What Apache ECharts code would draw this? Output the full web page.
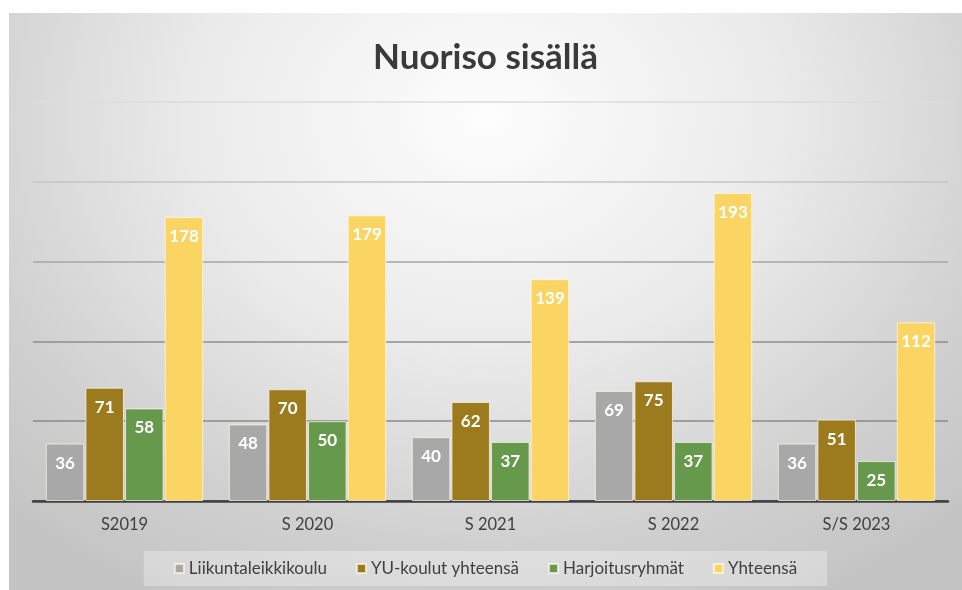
<!DOCTYPE html>
<html>
<head>
<meta charset="utf-8">
<script src="https://cdn.jsdelivr.net/npm/echarts@6/dist/echarts.min.js"></script>
<style>
  body { margin: 0; background: #fff; }
  #chart {
    position: absolute; left: 9px; top: 13px; width: 953px; height: 577px;
    background: radial-gradient(ellipse 72% 95% at 50% 18%, #fdfdfd 0%, #ebebeb 42%, #d0d0d0 78%, #c4c4c4 100%);
  }
</style>
</head>
<body>
<div id="chart"></div>
<script>
var categories = ['S2019', 'S 2020', 'S 2021', 'S 2022', 'S/S 2023'];
var liikunta = [36, 48, 40, 69, 36];
var yuKoulut = [71, 70, 62, 75, 51];
var harjoitus = [58, 50, 37, 37, 25];
var yhteensa = [178, 179, 139, 193, 112];

var chart = echarts.init(document.getElementById('chart'));

function barSeries(name, data, color) {
	return {
		name: name,
		type: 'bar',
		data: data,
		barGap: '3%',
		barCategoryGap: '14%',
		itemStyle: {
			color: color,
			borderColor: 'rgba(255,250,235,0.7)',
			borderWidth: 1
		},
		label: {
			show: true,
			position: 'insideTop',
			distance: 11,
			color: '#fff',
			fontWeight: 'bold',
			fontSize: 17,
			fontFamily: 'Lato'
		}
	};
}

var option = {
	animation: false,
	title: {
		text: 'Nuoriso sisällä',
		left: 'center',
		top: 22,
		textStyle: { fontFamily: 'Lato', fontWeight: 'bold', fontSize: 35, color: '#3a3a3a' }
	},
	legend: {
		bottom: 4,
		left: 'center',
		icon: 'rect',
		itemWidth: 9,
		itemHeight: 9,
		itemGap: 29,
		padding: [9, 30],
		backgroundColor: 'rgba(255,255,255,0.3)',
		textStyle: { fontFamily: 'Lato', fontSize: 17, color: '#404040' }
	},
	grid: { left: 24, right: 14, top: 89, bottom: 89 },
	xAxis: {
		type: 'category',
		data: categories,
		axisTick: { show: false },
		axisLine: { lineStyle: { color: '#404040', width: 2.5 } },
		axisLabel: { margin: 15, fontFamily: 'Lato', fontSize: 16.5, color: '#404040' }
	},
	yAxis: {
		type: 'value',
		min: 0,
		max: 250,
		interval: 50,
		axisLabel: { show: false },
		axisLine: { show: false },
		axisTick: { show: false },
		splitLine: {
			lineStyle: {
				width: 1.5,
				color: ['#404040', '#8a8a8a', '#8e8e8e', '#a6a6a6', '#c4c4c4', '#dcdcdc']
			}
		}
	},
	series: [
		barSeries('Liikuntaleikkikoulu', liikunta, '#a8a8a8'),
		barSeries('YU-koulut yhteensä', yuKoulut, '#9c7a1e'),
		barSeries('Harjoitusryhmät', harjoitus, '#67994c'),
		barSeries('Yhteensä', yhteensa, '#fbd564')
	]
};
chart.setOption(option);
</script>
</body>
</html>
